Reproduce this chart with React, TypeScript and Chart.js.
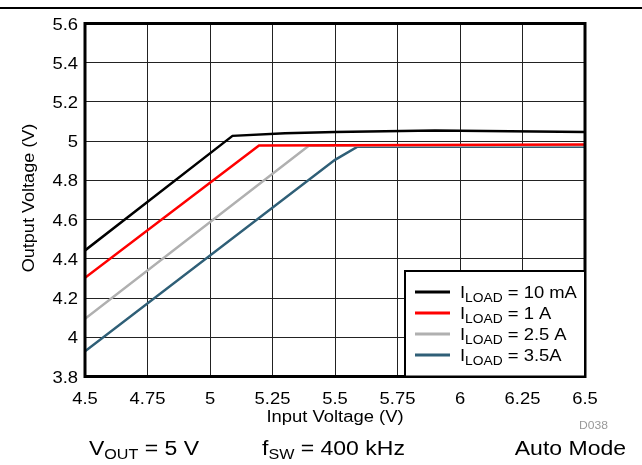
import React, { useEffect, useRef } from 'react';
import { Chart, registerables } from 'chart.js';

Chart.register(...registerables);

const FONT = '"Liberation Sans", Arial, Helvetica, sans-serif';

// ---- data ----
const xTickLabels = ['4.5', '4.75', '5', '5.25', '5.5', '5.75', '6', '6.25', '6.5'];
const yTickLabels = ['3.8', '4', '4.2', '4.4', '4.6', '4.8', '5', '5.2', '5.4', '5.6'];

const vin10mA = [4.5, 5.09, 5.3, 5.5, 5.9, 6.5];
const vout10mA = [4.443, 5.027, 5.04, 5.047, 5.055, 5.047];

const vin1A = [4.5, 5.196, 6.5];
const vout1A = [4.303, 4.978, 4.983];

const vin2p5A = [4.5, 5.395, 6.5];
const vout2p5A = [4.094, 4.976, 4.978];

const vin3p5A = [4.5, 5.5, 5.59, 6.5];
const vout3p5A = [3.929, 4.905, 4.972, 4.971];

const seriesLabels = ['10 mA', '1 A', '2.5 A', '3.5A'];
const seriesColors = ['#000000', '#ff0000', '#b0b0b0', '#2f5f77'];

const footerLeft = [{ t: 'V' }, { t: 'OUT', sub: true }, { t: ' = 5 V' }];
const footerMid = [{ t: 'f' }, { t: 'SW', sub: true }, { t: ' = 400 kHz' }];
const footerRight = [{ t: 'Auto Mode' }];

type Part = { t: string; sub?: boolean };

function drawRich(
  ctx: CanvasRenderingContext2D,
  parts: Part[],
  x: number,
  y: number,
  size: number,
  align: 'left' | 'center' | 'right',
  sx: number,
  color = '#000'
) {
  ctx.save();
  ctx.textBaseline = 'alphabetic';
  ctx.textAlign = 'left';
  const widths = parts.map((p) => {
    ctx.font = `${p.sub ? Math.round(size * 0.72) : size}px ${FONT}`;
    return ctx.measureText(p.t).width;
  });
  const total = widths.reduce((a, b) => a + b, 0) * sx;
  let x0 = x;
  if (align === 'center') x0 = x - total / 2;
  if (align === 'right') x0 = x - total;
  ctx.translate(x0, y);
  ctx.scale(sx, 1);
  ctx.fillStyle = color;
  let cx = 0;
  parts.forEach((p, i) => {
    ctx.font = `${p.sub ? Math.round(size * 0.72) : size}px ${FONT}`;
    ctx.fillText(p.t, cx, p.sub ? size * 0.22 : 0);
    cx += widths[i];
  });
  ctx.restore();
}

const customPlugin = {
  id: 'customDraw',
  afterDatasetsDraw(chart: any) {
    const { ctx, chartArea } = chart;
    ctx.save();
    ctx.strokeStyle = '#000';
    ctx.lineWidth = 3;
    ctx.strokeRect(chartArea.left, chartArea.top, chartArea.right - chartArea.left, chartArea.bottom - chartArea.top);
    ctx.restore();
  },
  afterDraw(chart: any) {
    const { ctx, chartArea } = chart;
    const xs = chart.scales.x;
    const ys = chart.scales.y;
    const S = 1.15;

    // top rule
    ctx.save();
    ctx.fillStyle = '#000';
    ctx.fillRect(0, 7, 642, 2);
    ctx.restore();

    // x tick labels
    xTickLabels.forEach((l) => {
      const px = xs.getPixelForValue(parseFloat(l));
      drawRich(ctx, [{ t: l }], px, chartArea.bottom + 27, 16, 'center', S);
    });
    // y tick labels
    yTickLabels.forEach((l) => {
      const py = ys.getPixelForValue(parseFloat(l));
      drawRich(ctx, [{ t: l }], chartArea.left - 7, py + 6, 16, 'right', S);
    });

    // axis titles
    drawRich(ctx, [{ t: 'Input Voltage (V)' }], (chartArea.left + chartArea.right) / 2, chartArea.bottom + 45, 16, 'center', S);
    ctx.save();
    ctx.translate(28, 198);
    ctx.rotate(-Math.PI / 2);
    drawRich(ctx, [{ t: 'Output Voltage (V)' }], 0, 6, 16, 'center', 1.13);
    ctx.restore();

    // legend box
    const lx = 405;
    const ly = 271;
    const lr = chartArea.right;
    const lb = chartArea.bottom;
    ctx.save();
    ctx.fillStyle = '#fff';
    ctx.fillRect(lx, ly, lr - lx, lb - ly);
    ctx.strokeStyle = '#000';
    ctx.lineWidth = 2;
    ctx.strokeRect(lx, ly, lr - lx, lb - ly);
    ctx.restore();
    seriesLabels.forEach((lab, i) => {
      const rowY = 292 + i * 21;
      ctx.save();
      ctx.strokeStyle = seriesColors[i];
      ctx.lineWidth = 3;
      ctx.beginPath();
      ctx.moveTo(415, rowY);
      ctx.lineTo(450, rowY);
      ctx.stroke();
      ctx.restore();
      drawRich(ctx, [{ t: 'I' }, { t: 'LOAD', sub: true }, { t: ' = ' + lab }], 460, rowY + 6, 16, 'left', S);
    });

    // chart code
    drawRich(ctx, [{ t: 'D038' }], 608, 429, 11, 'right', 1.1, '#999');

    // footer
    drawRich(ctx, footerLeft, 89, 455, 20, 'left', S);
    drawRich(ctx, footerMid, 262, 455, 20, 'left', S);
    drawRich(ctx, footerRight, 626, 455, 20, 'right', S);
  },
};

function toPoints(xs: number[], ys: number[]) {
  return xs.map((x, i) => ({ x, y: ys[i] }));
}

export default function App() {
  const ref = useRef<HTMLCanvasElement | null>(null);
  useEffect(() => {
    document.body.style.margin = '0';
    if (!ref.current) return;
    const datasets = [
      toPoints(vin10mA, vout10mA),
      toPoints(vin1A, vout1A),
      toPoints(vin2p5A, vout2p5A),
      toPoints(vin3p5A, vout3p5A),
    ].map((data, i) => ({
      label: seriesLabels[i],
      data,
      borderColor: seriesColors[i],
      backgroundColor: seriesColors[i],
      borderWidth: 2.5,
      pointRadius: 0,
      tension: 0,
      fill: false,
    }));
    const chart = new Chart(ref.current, {
      type: 'line',
      data: { datasets },
      options: {
        animation: false,
        responsive: false,
        devicePixelRatio: 1,
        layout: { padding: { left: 85, right: 57, top: 23.5, bottom: 88.5 } },
        plugins: { legend: { display: false }, tooltip: { enabled: false } },
        scales: {
          x: {
            type: 'linear',
            min: 4.5,
            max: 6.5,
            ticks: { stepSize: 0.25, display: false },
            grid: { color: '#222', lineWidth: 1, drawTicks: false },
            border: { display: false },
            title: { display: false },
          },
          y: {
            type: 'linear',
            min: 3.8,
            max: 5.6,
            ticks: { stepSize: 0.2, display: false },
            grid: { color: '#222', lineWidth: 1, drawTicks: false },
            border: { display: false },
            title: { display: false },
          },
        },
      },
      plugins: [customPlugin],
    });
    return () => chart.destroy();
  }, []);
  return (
    <div style={{ position: 'absolute', left: 0, top: 0, width: 642, height: 465, background: '#fff' }}>
      <canvas ref={ref} width={642} height={465} style={{ display: 'block' }} />
    </div>
  );
}
